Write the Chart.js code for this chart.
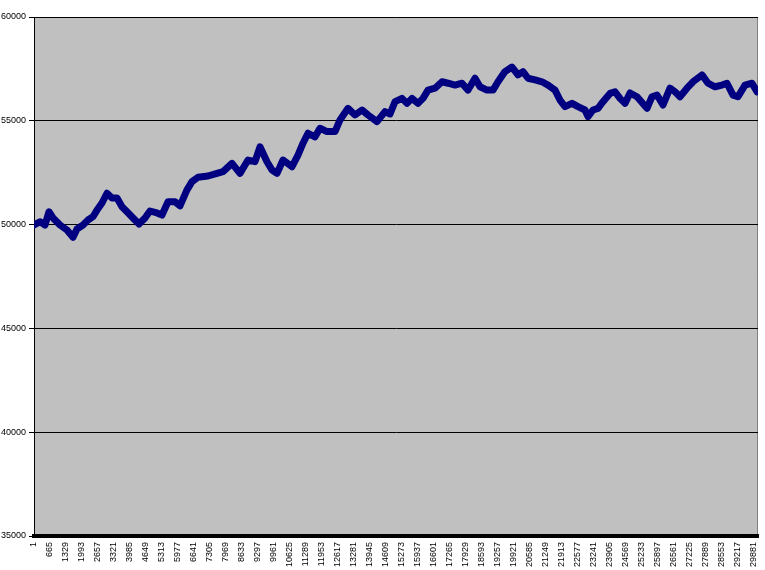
<!DOCTYPE html>
<html>
<head>
<meta charset="utf-8">
<script src="https://cdn.jsdelivr.net/npm/chart.js@4/dist/chart.umd.min.js"></script>
<style>
  html, body { margin: 0; padding: 0; background: #fff; }
  canvas { display: block; }
</style>
</head>
<body>
<canvas id="chart" width="765" height="570"></canvas>
<script>
// Step numbers (x) and values
const steps = [
    1, 250, 458, 624, 790, 1081, 1372, 1621, 1788, 2037, 2245, 2452, 2619, 2826, 3034, 3242,
    3450, 3657, 3865, 4114, 4364, 4613, 4821, 5112, 5319, 5569, 5860, 6067, 6358, 6566, 6815,
    7231, 7605, 7854, 8228, 8560, 8893, 9184, 9391, 9682, 9890, 10098, 10347, 10721, 10970,
    11178, 11386, 11677, 11884, 12175, 12508, 12715, 13048, 13339, 13629, 13879, 14253, 14585,
    14793, 15001, 15291, 15499, 15707, 15956, 16164, 16372, 16663, 16953, 17203, 17494, 17784,
    18034, 18325, 18532, 18823, 19072, 19280, 19571, 19862, 20111, 20319, 20527, 20818, 21108,
    21358, 21649, 21856, 22064, 22355, 22604, 22895, 23020, 23227, 23435, 23643, 23934, 24142,
    24349, 24557, 24765, 25056, 25471, 25679, 25887, 26136, 26427, 26635, 26842, 27133, 27382,
    27756, 28006, 28297, 28587, 28795, 29044, 29252, 29543, 29834, 30042
];
const values = [
    49980, 50140, 49980, 50620, 50320, 49980, 49740, 49390, 49790, 49980, 50220, 50380, 50700, 51040, 51510, 51280,
    51280, 50860, 50620, 50320, 50030, 50320, 50655, 50560, 50460, 51100, 51100, 50900, 51670, 52070, 52280,
    52340, 52470, 52550, 52950, 52470, 53110, 53030, 53750, 53030, 52630, 52470, 53110, 52790, 53350,
    53920, 54400, 54230, 54640, 54480, 54480, 55040, 55600, 55280, 55520, 55280, 54960, 55440,
    55330, 55920, 56080, 55840, 56080, 55840, 56080, 56480, 56570, 56880, 56810, 56720, 56810,
    56480, 57050, 56640, 56480, 56480, 56880, 57370, 57590, 57210, 57370, 57050, 56970, 56880,
    56720, 56480, 56000, 55680, 55840, 55680, 55520, 55200, 55520, 55600, 55920, 56320, 56400,
    56080, 55840, 56340, 56160, 55600, 56160, 56240, 55760, 56570, 56400, 56160, 56570, 56880,
    57210, 56810, 56640, 56720, 56810, 56240, 56160, 56720, 56810, 56400
];
const xTickLabels = [
    1, 665, 1329, 1993, 2657, 3321, 3985, 4649, 5313, 5977, 6641, 7305, 7969, 8633, 9297, 9961,
    10625, 11289, 11953, 12617, 13281, 13945, 14609, 15273, 15937, 16601, 17265, 17929, 18593,
    19257, 19921, 20585, 21249, 21913, 22577, 23241, 23905, 24569, 25233, 25897, 26561, 27225,
    27889, 28553, 29217, 29881
];
const yTickLabels = [35000, 40000, 45000, 50000, 55000, 60000];

const points = steps.map((s, i) => ({ x: s, y: values[i] }));

// grey plot area with grey top/right frame, like Excel
const plotBackground = {
    id: 'plotBackground',
    beforeDraw(chart) {
        const { ctx, chartArea: a } = chart;
        ctx.save();
        ctx.fillStyle = '#c0c0c0';
        ctx.fillRect(a.left, a.top, a.right - a.left, a.bottom - a.top);
        ctx.strokeStyle = '#808080';
        ctx.lineWidth = 1;
        ctx.beginPath();
        ctx.moveTo(a.left, a.top + 0.5);
        ctx.lineTo(a.right - 0.5, a.top + 0.5);
        ctx.lineTo(a.right - 0.5, a.bottom);
        ctx.stroke();
        ctx.restore();
    }
};

new Chart(document.getElementById('chart'), {
    type: 'line',
    data: {
        datasets: [{
            data: points,
            borderColor: '#000080',
            borderWidth: 7,
            pointRadius: 0,
            tension: 0,
            fill: false,
            borderJoinStyle: 'round',
            borderCapStyle: 'round'
        }]
    },
    options: {
        responsive: false,
        animation: false,
        devicePixelRatio: 1,
        layout: { padding: { top: 17, right: 7, left: 0, bottom: 0 } },
        plugins: {
            legend: { display: false },
            tooltip: { enabled: false }
        },
        scales: {
            x: {
                type: 'linear',
                min: 1,
                max: 30083,
                afterBuildTicks: (scale) => { scale.ticks = xTickLabels.map(v => ({ value: v })); },
                afterFit: (scale) => {
                    scale.height = 34;
                    scale.paddingLeft = 0;
                    scale.paddingRight = 0;
                },
                grid: { display: false, drawTicks: false },
                border: { display: true, color: '#000', width: 4 },
                ticks: {
                    autoSkip: false,
                    minRotation: 90,
                    maxRotation: 90,
                    padding: 6,
                    color: '#000',
                    font: { family: 'Liberation Sans, Arial, sans-serif', size: 9 },
                    callback: (v) => String(v)
                }
            },
            y: {
                min: 35000,
                max: 60000,
                afterBuildTicks: (scale) => { scale.ticks = yTickLabels.map(v => ({ value: v })); },
                afterFit: (scale) => {
                    scale.width = 34;
                    scale.paddingTop = 0;
                    scale.paddingBottom = 0;
                },
                grid: { color: '#000', lineWidth: 1, tickLength: 5, tickColor: '#000' },
                border: { display: true, color: '#000', width: 1 },
                ticks: {
                    padding: 3,
                    color: '#000',
                    font: { family: 'Liberation Sans, Arial, sans-serif', size: 9 },
                    callback: (v) => String(v)
                }
            }
        }
    },
    plugins: [plotBackground]
});
</script>
</body>
</html>
